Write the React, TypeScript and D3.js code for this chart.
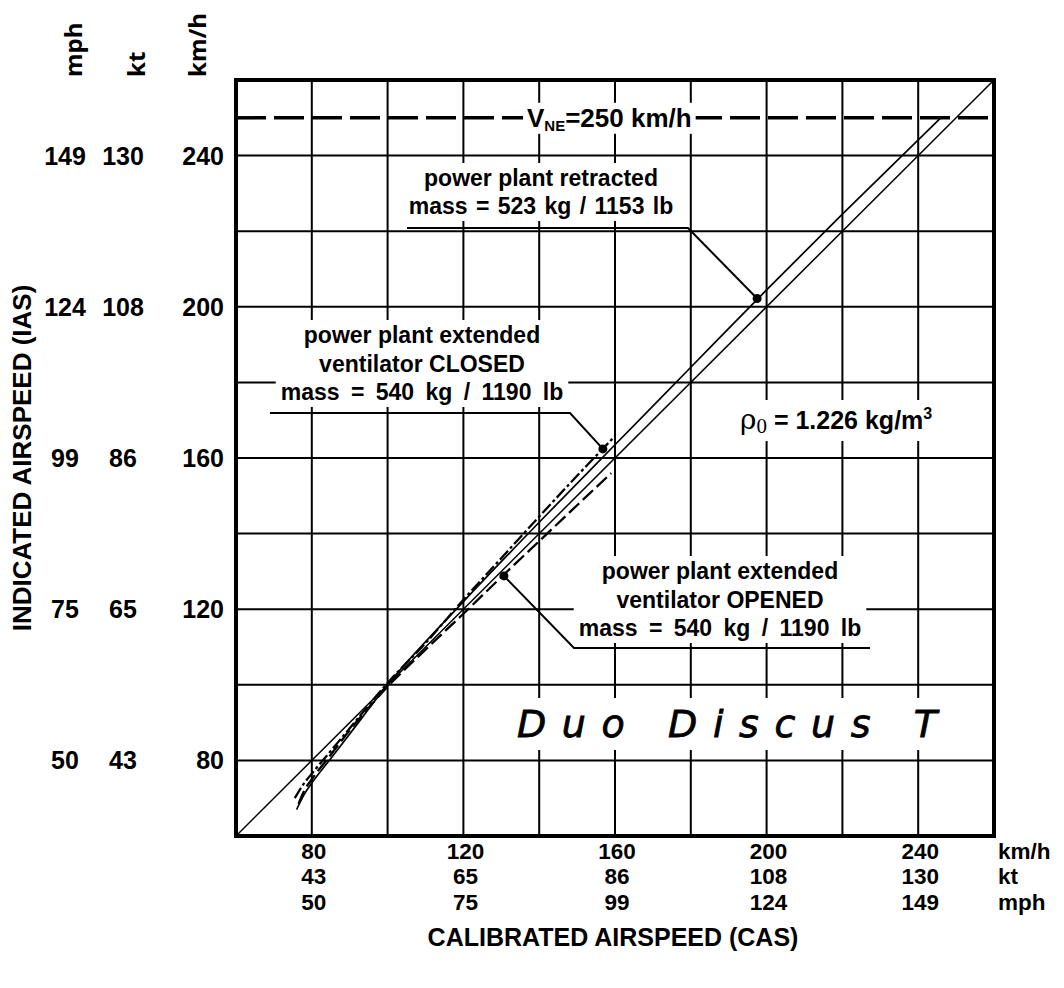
import React, { useEffect, useRef } from 'react';
import * as d3 from 'd3';

// tick labels, km/h on both axes, with kt and mph equivalents
const kmhTicks = [80, 120, 160, 200, 240];
const ktLabels = ['43', '65', '86', '108', '130'];
const mphLabels = ['50', '75', '99', '124', '149'];
const gridValues = [80, 100, 120, 140, 160, 180, 200, 220, 240];

const VNE = 250;

// position error curves: calibrated (CAS) -> indicated (IAS), km/h
const identity = [60, 260];

const retractedCAS = [76, 78, 80, 85, 90, 100, 120, 140, 160, 180, 200, 220, 246];
const retractedIAS = [67, 71, 74, 80.5, 87, 100, 122, 143, 163.5, 184, 204.5, 224.5, 250];

const closedCAS = [75.5, 78, 80, 85, 90, 100, 110, 120, 130, 140, 150, 160];
const closedIAS = [70, 74, 76.5, 82.5, 88.5, 100.5, 111, 122.5, 133.5, 144.5, 155.3, 165.8];

const openedCAS = [76.5, 78, 80, 85, 90, 100, 110, 120, 130, 140, 150, 159];
const openedIAS = [68.5, 72, 75, 81.5, 88, 99.5, 109.3, 118.8, 128.5, 138, 147.5, 156];

// points where the label leaders touch the curves
const retractedDot = [197.5, 202.2];
const closedDot = [156.8, 162.4];
const openedDot = [130.7, 128.8];

const W = 1064;
const H = 988;

const App = () => {
  const ref = useRef<SVGSVGElement>(null);

  useEffect(() => {
    const svg = d3.select(ref.current);
    svg.selectAll('*').remove();

    const font = "'Liberation Sans', Arial, Helvetica, sans-serif";
    const x = d3.scaleLinear().domain([60, 260]).range([236, 994]);
    const y = d3.scaleLinear().domain([60, 260]).range([836, 80]);

    svg.append('rect').attr('width', W).attr('height', H).attr('fill', 'white');

    // grid
    const grid = svg.append('g').attr('stroke', 'black').attr('stroke-width', 2);
    gridValues.forEach((v) => {
      grid.append('line').attr('x1', x(v)).attr('x2', x(v)).attr('y1', y(60)).attr('y2', y(260));
      grid.append('line').attr('y1', y(v)).attr('y2', y(v)).attr('x1', x(60)).attr('x2', x(260));
    });

    // VNE line
    svg.append('line')
      .attr('x1', x(60)).attr('x2', x(260))
      .attr('y1', y(VNE)).attr('y2', y(VNE))
      .attr('stroke', 'black').attr('stroke-width', 3.5)
      .attr('stroke-dasharray', '30 8');

    const drawCurve = (cas: number[], ias: number[], dash: string | null, w: number) => {
      const pts = cas.map((c, i) => [x(c), y(ias[i])] as [number, number]);
      const p = svg.append('path')
        .attr('d', d3.line().curve(d3.curveMonotoneX)(pts))
        .attr('fill', 'none')
        .attr('stroke', 'black')
        .attr('stroke-width', w);
      if (dash) p.attr('stroke-dasharray', dash);
    };

    drawCurve(identity, identity, null, 1.5);
    drawCurve(retractedCAS, retractedIAS, null, 1.7);
    drawCurve(closedCAS, closedIAS, '12 3 3 3', 2.3);
    drawCurve(openedCAS, openedIAS, '14 5', 2.3);

    // boxed labels (white background hides grid)
    const boxed = (build: (g: any) => void, padX = 5, padY = 2) => {
      const g = svg.append('g');
      const bg = g.append('rect').attr('fill', 'white');
      const t = g.append('g');
      build(t);
      const b = (t.node() as SVGGElement).getBBox();
      bg.attr('x', b.x - padX).attr('y', b.y - padY)
        .attr('width', b.width + padX * 2).attr('height', b.height + padY * 2);
      return g;
    };

    const multiLine = (lines: string[], cx: number, cy: number, step: number, wordGap: number) =>
      boxed((g) => {
        lines.forEach((s, i) => {
          const t = g.append('text')
            .attr('x', cx).attr('y', cy + i * step)
            .attr('text-anchor', 'middle')
            .attr('dominant-baseline', 'central')
            .attr('font-family', font).attr('font-weight', 'bold').attr('font-size', 23)
            .text(s);
          if (i === lines.length - 1) t.attr('word-spacing', wordGap);
        });
      });

    multiLine(['power plant retracted', 'mass = 523 kg / 1153 lb'], 541, 178, 28, 2);
    multiLine(['power plant extended', 'ventilator CLOSED', 'mass = 540 kg / 1190 lb'], 422, 335, 28.5, 5);
    multiLine(['power plant extended', 'ventilator OPENED', 'mass = 540 kg / 1190 lb'], 720, 571, 28.5, 5);

    // VNE label
    boxed((g) => {
      const t = g.append('text')
        .attr('x', 527).attr('y', y(VNE) + 9)
        .attr('font-family', font).attr('font-weight', 'bold').attr('font-size', 26);
      t.append('tspan').text('V');
      t.append('tspan').attr('font-size', 15).attr('dy', 4).text('NE');
      t.append('tspan').attr('dy', -4).text('=250 km/h');
    }, 4, 0);

    // air density label
    boxed((g) => {
      const t = g.append('text')
        .attr('x', 740).attr('y', 429)
        .attr('font-family', font).attr('font-weight', 'bold').attr('font-size', 25);
      t.append('tspan').attr('font-family', "'DejaVu Serif', 'Liberation Serif', serif")
        .attr('font-weight', 'normal').attr('font-size', 28).text('ρ');
      t.append('tspan').attr('font-family', "'Liberation Serif', serif")
        .attr('font-weight', 'normal').attr('font-size', 21).attr('dy', 4).text('0');
      t.append('tspan').attr('dy', -4).text(' = 1.226 kg/m');
      t.append('tspan').attr('font-size', 16).attr('dy', -10).text('3');
    }, 5, 3);

    // logo
    boxed((g) => {
      g.append('text')
        .attr('x', 517).attr('y', 737)
        .attr('font-family', "'DejaVu Sans', sans-serif")
        .attr('font-style', 'italic')
        .attr('font-size', 38)
        .attr('stroke', 'black').attr('stroke-width', 0.8)
        .attr('textLength', 420)
        .attr('lengthAdjust', 'spacing')
        .text('Duo Discus T');
    }, 14, 4);

    // leaders
    const leader = (dot: number[], corner: [number, number], end: number) => {
      const px = x(dot[0]);
      const py = y(dot[1]);
      svg.append('polyline')
        .attr('points', `${px},${py} ${corner[0]},${corner[1]} ${end},${corner[1]}`)
        .attr('fill', 'none').attr('stroke', 'black').attr('stroke-width', 2);
      svg.append('circle').attr('cx', px).attr('cy', py).attr('r', 4.5).attr('fill', 'black');
    };
    leader(retractedDot, [688, 228], 407);
    leader(closedDot, [570, 413], 270);
    leader(openedDot, [574, 648], 870);

    // frame
    svg.append('rect')
      .attr('x', x(60)).attr('y', y(260))
      .attr('width', x(260) - x(60)).attr('height', y(60) - y(260))
      .attr('fill', 'none').attr('stroke', 'black').attr('stroke-width', 4);

    const label = (s: string, px: number, py: number, anchor: string, size = 25) =>
      svg.append('text')
        .attr('x', px).attr('y', py)
        .attr('text-anchor', anchor)
        .attr('dominant-baseline', 'central')
        .attr('font-family', font).attr('font-weight', 'bold').attr('font-size', size)
        .text(s);

    // left tick labels
    kmhTicks.forEach((v, i) => {
      label(mphLabels[i], 65, y(v), 'middle');
      label(ktLabels[i], 123, y(v), 'middle');
      label(String(v), 224, y(v), 'end');
    });

    // bottom tick labels
    const rows = [851, 876.5, 902];
    const bs = 22.5;
    kmhTicks.forEach((v, i) => {
      label(String(v), x(v) + 2, rows[0], 'middle', bs);
      label(ktLabels[i], x(v) + 2, rows[1], 'middle', bs);
      label(mphLabels[i], x(v) + 2, rows[2], 'middle', bs);
    });
    label('km/h', 998, rows[0], 'start', bs);
    label('kt', 998, rows[1], 'start', bs);
    label('mph', 998, rows[2], 'start', bs);

    // unit headings above the left axis
    const unitFont = "'Open Sans', 'DejaVu Sans', sans-serif";
    [['mph', 82], ['kt', 145], ['km/h', 206]].forEach(([s, bx]) => {
      svg.append('text')
        .attr('transform', `translate(${bx},77) rotate(-90)`)
        .attr('font-family', unitFont).attr('font-weight', 700).attr('font-size', 24)
        .text(s as string);
    });

    // axis titles
    label('CALIBRATED AIRSPEED (CAS)', 613, 937, 'middle', 25);
    svg.append('text')
      .attr('transform', `translate(22,458) rotate(-90)`)
      .attr('text-anchor', 'middle')
      .attr('dominant-baseline', 'central')
      .attr('font-family', font).attr('font-weight', 'bold').attr('font-size', 26)
      .text('INDICATED AIRSPEED (IAS)');
  }, []);

  return (
    <svg ref={ref} width={W} height={H} style={{ position: 'absolute', left: 0, top: 0 }} />
  );
};

export default App;
